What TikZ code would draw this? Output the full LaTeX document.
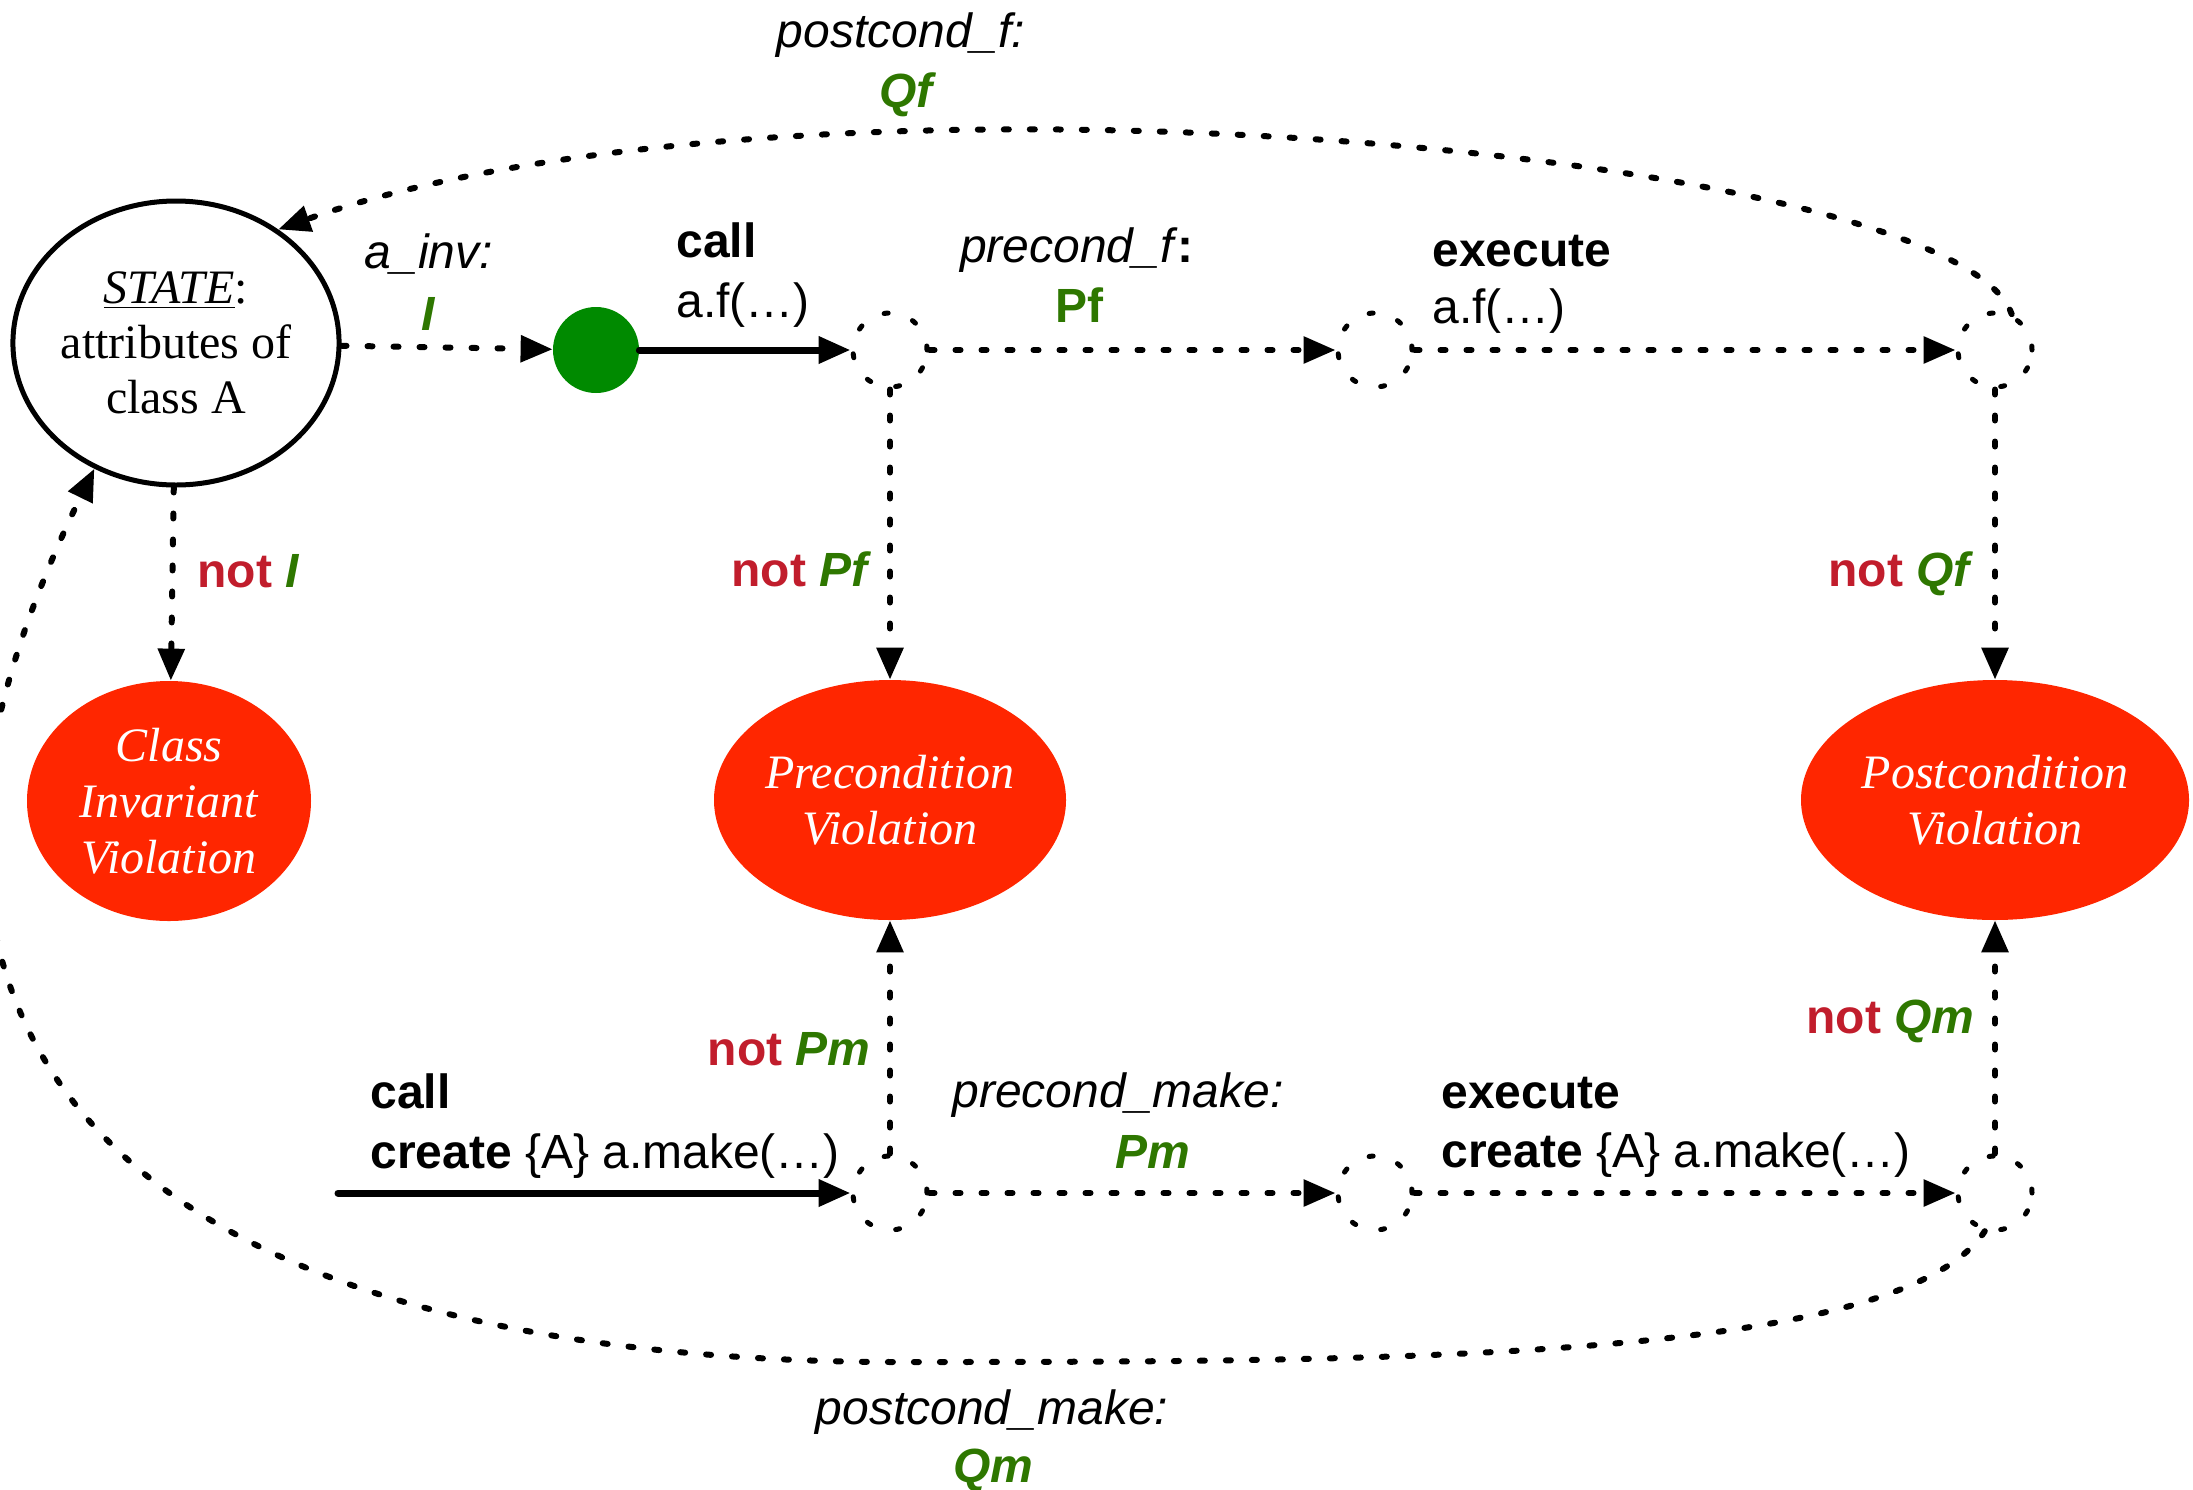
\documentclass[tikz,border=0pt]{standalone}
\usepackage{fontspec}
\setmainfont{Liberation Serif}
\setsansfont{Liberation Sans}
\usetikzlibrary{arrows.meta,shapes.geometric}

\definecolor{vred}{RGB}{255,38,0}
\definecolor{notred}{RGB}{193,29,44}
\definecolor{condgreen}{RGB}{46,119,0}
\definecolor{dotgreen}{RGB}{0,138,0}

\begin{document}
\begin{tikzpicture}[x=0.5pt,y=-0.5pt,
  lbl/.style={font=\sffamily\fontsize{24}{30}\selectfont, inner sep=0pt},
  ser/.style={font=\fontsize{24}{27.5}\selectfont, align=center, inner sep=0pt},
  dotline/.style={line width=3pt, line cap=round, dash pattern=on 2.5pt off 10.5pt},
  tip/.style={-{Triangle[length=16pt,width=13pt]}},
  solidarrow/.style={line width=3.5pt, line cap=round},
  junction/.style={circle, minimum size=37pt, inner sep=0pt, draw, line width=2.5pt, line cap=round, dash pattern=on 2pt off 13pt},
  viol/.style={ellipse, fill=vred, inner sep=0pt, text=white, font=\itshape\fontsize{24}{28}\selectfont, align=center},
  notlbl/.style={lbl},
]
\useasboundingbox (0,0) rectangle (2193,1489);

% main nodes
\node[ellipse, draw, line width=2.5pt, minimum width=162pt, minimum height=142pt, ser] (state) at (176,343)
  {\underline{\textit{STATE}}:\\attributes of\\class A};
\node[circle, fill=dotgreen, minimum size=43pt, inner sep=0pt] (dot) at (596,350) {};
\node[junction] (j1) at (890,350) {};
\node[junction] (j2) at (1375,350) {};
\node[junction] (j3) at (1995,350) {};
\node[junction] (j4) at (890,1193) {};
\node[junction] (j5) at (1375,1193) {};
\node[junction] (j6) at (1995,1193) {};
\node[viol, minimum width=142pt, minimum height=120pt] (civ) at (169,801) {Class\\Invariant\\Violation};
\node[viol, minimum width=176pt, minimum height=120pt] (pv) at (890,800) {Precondition\\Violation};
\node[viol, minimum width=194pt, minimum height=120pt] (postv) at (1995,800) {Postcondition\\Violation};
\coordinate (callstart) at (338,1193);

% connectors
\draw[dotline, tip] (state) -- (dot);
\draw[solidarrow, tip] (dot) -- (j1);
\draw[dotline, tip] (j1) -- (j2);
\draw[dotline, tip] (j2) -- (j3);
\draw[dotline, tip] (state) -- (civ);
\draw[dotline, tip] (j1) -- (pv);
\draw[dotline, tip] (j3) -- (postv);
\draw[dotline, tip] (j4) -- (pv);
\draw[dotline, tip] (j6) -- (postv);
\draw[solidarrow, tip] (callstart) -- (j4);
\draw[dotline, tip] (j4) -- (j5);
\draw[dotline, tip] (j5) -- (j6);
\draw[dotline, tip] (j3.65) .. controls (1955,150) and (800,45) .. (state.48);
\draw[dotline, tip] (j6.255) .. controls (1900,1360) and (1400,1362) .. (900,1362)
  .. controls (450,1362) and (-15,1250) .. (-15,830)
  .. controls (-15,700) and (57,545) .. (state.237);

% labels top row
\node[lbl, anchor=base] (ainv1) at (429,268) {\textit{a\_inv:}};
\node[lbl, anchor=base] (ainv2) at (428,330) {\color{condgreen}\bfseries\itshape I};
\node[lbl, anchor=base west] (callf1) at (676,257) {\textbf{call}};
\node[lbl, anchor=base west] (callf2) at (676,317) {a.f(…)};
\node[lbl, anchor=base] (pref1) at (1077,262) {\textit{precond\_f}\textbf{:}};
\node[lbl, anchor=base] (pref2) at (1079,322) {\color{condgreen}\bfseries Pf};
\node[lbl, anchor=base west] (exef1) at (1432,266) {\textbf{execute}};
\node[lbl, anchor=base west] (exef2) at (1432,323) {a.f(…)};
\node[lbl, anchor=base] (postf1) at (901,47) {\textit{postcond\_f:}};
\node[lbl, anchor=base] (postf2) at (906,107) {\color{condgreen}\bfseries\itshape Qf};

% violation labels
\node[lbl, anchor=base west] (notI) at (197,587) {\color{notred}\bfseries not \color{condgreen}\itshape I};
\node[lbl, anchor=base east] (notPf) at (868,586) {\color{notred}\bfseries not \color{condgreen}\itshape Pf};
\node[lbl, anchor=base east] (notQf) at (1970,586) {\color{notred}\bfseries not \color{condgreen}\itshape Qf};
\node[lbl, anchor=base east] (notPm) at (871,1065) {\color{notred}\bfseries not \color{condgreen}\itshape Pm};
\node[lbl, anchor=base east] (notQm) at (1975,1033) {\color{notred}\bfseries not \color{condgreen}\itshape Qm};

% labels bottom row
\node[lbl, anchor=base west] (callm1) at (370,1108) {\textbf{call}};
\node[lbl, anchor=base west] (callm2) at (370,1168) {\textbf{create} \{A\} a.make(…)};
\node[lbl, anchor=base] (prem1) at (1118,1107) {\textit{precond\_make:}};
\node[lbl, anchor=base] (prem2) at (1153,1168) {\color{condgreen}\bfseries\itshape Pm};
\node[lbl, anchor=base west] (exem1) at (1441,1108) {\textbf{execute}};
\node[lbl, anchor=base west] (exem2) at (1441,1167) {\textbf{create} \{A\} a.make(…)};
\node[lbl, anchor=base] (postm1) at (992,1424) {\textit{postcond\_make:}};
\node[lbl, anchor=base] (postm2) at (993,1482) {\color{condgreen}\bfseries\itshape Qm};
\end{tikzpicture}
\end{document}
